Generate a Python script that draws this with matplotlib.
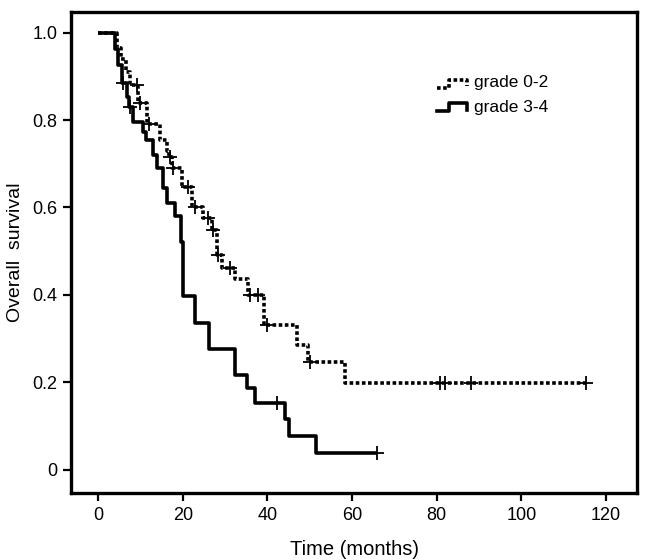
import numpy as np
import matplotlib; matplotlib.use('Agg')
import matplotlib.pyplot as plt

plt.rcParams['font.family'] = ['Liberation Sans', 'DejaVu Sans']

# grade 0-2 (dotted): step times (months) and survival after each step
low_t = [0, 4.5, 5.5, 6.5, 7.5, 9.5, 11.5, 14.5, 16.3, 16.8, 17.5, 19.8, 22.2,
         24.8, 27.0, 28.0, 29.3, 32.4, 35.5, 39.2, 47.0, 49.5, 58.4]
low_s = [1.0, 0.966, 0.94, 0.91, 0.88, 0.84, 0.79, 0.755, 0.73, 0.716, 0.69, 0.648, 0.60,
         0.575, 0.549, 0.492, 0.462, 0.437, 0.40, 0.33, 0.286, 0.247, 0.199]
low_cens = [9.2, 9.9, 12.0, 17.0, 17.7, 21.3, 22.9, 26.0, 27.2, 28.3, 31.2, 35.9, 37.8,
            39.9, 50.0, 80.8, 82.0, 88.1, 115.3]

# grade 3-4 (solid)
high_t = [0, 4.0, 4.7, 5.7, 6.8, 7.4, 8.3, 10.5, 11.2, 13.0, 14.0, 15.4, 16.3, 18.2,
          19.6, 20.1, 22.9, 26.2, 32.4, 35.2, 37.1, 44.2, 45.1, 51.5]
high_s = [1.0, 0.963, 0.926, 0.886, 0.854, 0.83, 0.796, 0.773, 0.755, 0.72, 0.69, 0.645,
          0.611, 0.581, 0.522, 0.398, 0.336, 0.277, 0.217, 0.188, 0.153, 0.117, 0.078, 0.039]
high_cens = [5.9, 7.6, 42.3, 66.0]

def km(ax, t, s, cens, ls, lw):
    t_end = max(max(t), max(cens))
    ax.step(t + [t_end], s + [s[-1]], where='post', color='black', ls=ls, lw=lw,
            solid_capstyle='butt', dash_capstyle='butt')
    cy = [s[np.searchsorted(t, c, side='right') - 1] for c in cens]
    ax.plot(cens, cy, ls='none', marker='+', ms=10, mew=1.3, color='black')

fig = plt.figure(figsize=(6.46, 5.60), dpi=100)
ax = fig.add_axes([0.110, 0.120, 0.876, 0.859])

km(ax, low_t, low_s, low_cens, (0, (1.0, 0.7)), 2.6)
km(ax, high_t, high_s, high_cens, '-', 2.6)

ax.set_xlim(-6.4, 127.3)
ax.set_ylim(-0.053, 1.048)
ax.set_xticks([0, 20, 40, 60, 80, 100, 120])
ax.set_yticks([0, 0.2, 0.4, 0.6, 0.8, 1.0])
ax.set_yticklabels(['0', '0.2', '0.4', '0.6', '0.8', '1.0'])
for sp in ax.spines.values():
    sp.set_linewidth(2.4)
ax.tick_params(direction='out', length=6, width=1.6, labelsize=13, pad=4)
ax.set_xlabel('Time (months)', fontsize=14.5, labelpad=12)
ax.set_ylabel('Overall  survival', fontsize=14, labelpad=6)

# legend with step-shaped handles
tr = ax.transAxes
def handle(x, y, ls):
    ax.plot(x, y, transform=tr, color='black', lw=2.6, ls=ls, clip_on=False)
hx = [0.647, 0.668, 0.668, 0.700, 0.700]
handle(hx, [0.842, 0.842, 0.858, 0.858, 0.845], (0, (1.0, 0.7)))
handle(hx, [0.793, 0.793, 0.810, 0.810, 0.795], '-')
ax.text(0.712, 0.852, 'grade 0-2', transform=tr, fontsize=12.5, va='center')
ax.text(0.712, 0.802, 'grade 3-4', transform=tr, fontsize=12.5, va='center')

plt.savefig('out.png', dpi=100)
